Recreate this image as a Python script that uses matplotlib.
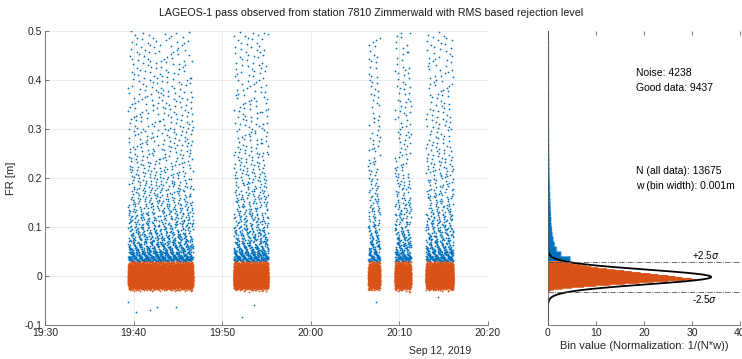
import numpy as np
import matplotlib
matplotlib.use('Agg')
import matplotlib.pyplot as plt
import matplotlib.dates as mdates

plt.rcParams['font.family'] = ['Liberation Sans', 'DejaVu Sans']

# tracking passes, minutes after 19:30 (12 Sep 2019)
pass_start = [9.4, 21.3, 36.5, 39.5, 43.0]
pass_end = [16.7, 25.2, 37.8, 41.3, 46.1]

# good data: histogram value per 2 mm bin, bins start at -0.032 m
good_bin_lo = -0.032
good_density = [0.4, 1.2, 3.0, 5.0, 7.5, 10.0, 13.0, 16.0, 19.0, 22.0, 25.0,
                28.5, 31.0, 30.0, 28.0, 26.5, 25.0, 23.0, 21.3, 19.3, 17.5,
                15.8, 14.0, 12.3, 10.5, 9.0, 8.0, 6.8, 5.6, 4.3, 3.0]

# noise above the band: points per 1 cm band, bands start at 0.03 m
noise_bin_lo = 0.03
noise_counts = [640, 380, 250, 190, 155, 132, 116,
                100, 92, 86, 78, 72, 67, 62, 57, 54, 50,
                47, 45, 42, 40, 38, 36, 34, 33, 32, 31,
                30, 29, 28, 28, 27, 27, 26, 26, 25, 25,
                24, 24, 23, 23, 22, 22, 21, 21, 20, 20]

# the few noise points below the band (minutes, FR)
low_noise_t = [9.4, 10.3, 11.9, 12.7, 14.75, 22.2, 23.55, 37.35, 44.4]
low_noise_fr = [-0.054, -0.073, -0.069, -0.063, -0.064, -0.084, -0.059, -0.053, -0.043]

n_all = 13675
n_noise = 4238
n_good = 9437
bin_w = 0.001
rms_mean = -0.0015
rms_sigma = 0.0122
fit_mu = -0.002
fit_sigma = 0.015
fit_peak = 34

t0 = np.datetime64('2019-09-12T19:30')

dur = np.array(pass_end) - np.array(pass_start)
cum = np.concatenate([[0], np.cumsum(dur)])


def halton(n, base, start=1):
    # radical inverse, spreads points evenly over [0, 1)
    i = np.arange(start, start + n)
    out = np.zeros(n)
    f = 1.0 / base
    while np.any(i > 0):
        out += f * (i % base)
        i = i // base
        f /= base
    return out


def to_minutes(u):
    s = u * cum[-1]
    k = np.clip(np.searchsorted(cum, s, side='right') - 1, 0, len(dur) - 1)
    return np.array(pass_start)[k] + s - cum[k]


def to_fr(v, lo, width, counts):
    # place points over the bins in proportion to the read-off counts
    c = np.concatenate([[0], np.cumsum(counts)])
    s = v * c[-1]
    k = np.clip(np.searchsorted(c, s, side='right') - 1, 0, len(counts) - 1)
    return lo + width * (k + (s - c[k]) / np.asarray(counts)[k])


def to_time(m):
    return t0 + (np.asarray(m) * 60000).astype('timedelta64[ms]')


gc = np.round(np.array(good_density) * n_all * 0.002).astype(int)
ng = gc.sum()
good_t = to_minutes(halton(ng, 2, 7))
good_fr = to_fr(halton(ng, 3, 7), good_bin_lo, 0.002, gc)

nc = np.array(noise_counts)
nn = nc.sum()
noise_t = np.concatenate([to_minutes(halton(nn, 5, 3)), low_noise_t])
noise_fr = np.concatenate([to_fr(halton(nn, 7, 3), noise_bin_lo, 0.01, nc), low_noise_fr])

blue = '#0072BD'
orange = '#D95319'

fig = plt.figure(figsize=(7.42, 3.59), dpi=100)
ax = fig.add_axes([0.0606, 0.0947, 0.597, 0.819])
ax2 = fig.add_axes([0.7385, 0.0947, 0.2588, 0.819])

ax.scatter(to_time(noise_t), noise_fr, s=1.6, color=blue, linewidths=0, rasterized=True)
ax.scatter(to_time(good_t), good_fr, s=1.6, color=orange, linewidths=0, rasterized=True)
ax.set_xlim(t0, t0 + np.timedelta64(50, 'm'))
ax.set_ylim(-0.1, 0.5)
ax.set_yticks(np.arange(-0.1, 0.51, 0.1))
ax.set_yticklabels(['-0.1', '0', '0.1', '0.2', '0.3', '0.4', '0.5'])
ax.xaxis.set_major_locator(mdates.MinuteLocator(byminute=range(0, 60, 10)))
ax.xaxis.set_major_formatter(mdates.DateFormatter('%H:%M'))
ax.grid(True, color='#e8e8e8', lw=0.6)
ax.set_axisbelow(True)
ax.set_ylabel('FR [m]', fontsize=8, color='#262626', labelpad=6)
for s in ['top', 'right']:
    ax.spines[s].set_visible(False)
fig.text(0.593, 0.022, 'Sep 12, 2019', fontsize=7.5, color='#262626', ha='center', va='center')
fig.text(0.5, 0.965, 'LAGEOS-1 pass observed from station 7810 Zimmerwald with RMS based rejection level',
         fontsize=7.7, color='#1a1a1a', ha='center', va='center')

edges = np.arange(-0.1, 0.5 + bin_w / 2, bin_w)
ax2.hist(noise_fr, bins=edges, weights=np.full(len(noise_fr), 1 / (n_all * bin_w)),
         orientation='horizontal', histtype='stepfilled', color=blue)
ax2.hist(good_fr, bins=edges, weights=np.full(len(good_fr), 1 / (n_all * bin_w)),
         orientation='horizontal', histtype='stepfilled', color=orange)
yy = np.linspace(-0.1, 0.5, 1200)
ax2.plot(fit_peak * np.exp(-(yy - fit_mu) ** 2 / (2 * fit_sigma ** 2)), yy, color='black', lw=1.3)
for k in [2.5, -2.5]:
    ax2.axhline(rms_mean + k * rms_sigma, color='#555555', lw=0.6, ls='-.')
ax2.text(30, rms_mean + 2.5 * rms_sigma + 0.002, r'+2.5$\sigma$', fontsize=7, va='bottom')
ax2.text(30, rms_mean - 2.5 * rms_sigma - 0.003, r'-2.5$\sigma$', fontsize=7, va='top')
ax2.text(18.3, 0.414, 'Noise: %d' % n_noise, fontsize=7.5, va='center')
ax2.text(18.3, 0.384, 'Good data: %d' % n_good, fontsize=7.5, va='center')
ax2.text(18.3, 0.214, 'N (all data): %d' % n_all, fontsize=7.5, va='center')
ax2.text(18.3, 0.184, 'w (bin width): %gm' % bin_w, fontsize=7.5, va='center')
ax2.set_xlim(0, 40)
ax2.set_ylim(-0.1, 0.5)
ax2.set_xticks([0, 10, 20, 30, 40])
ax2.set_yticks([])
ax2.set_xlabel('Bin value (Normalization: 1/(N*w))', fontsize=8, color='#262626', labelpad=2)
ax2.spines['top'].set_visible(False)
ax2.spines['right'].set_visible(False)

for a in [ax, ax2]:
    a.tick_params(direction='in', length=3, width=0.6, color='#666666',
                  labelsize=7.5, labelcolor='#262626', pad=2)
    for s in a.spines.values():
        s.set_color('#666666')
        s.set_linewidth(0.6)
ax2.tick_params(top=True)

fig.savefig('out.png', dpi=100)
